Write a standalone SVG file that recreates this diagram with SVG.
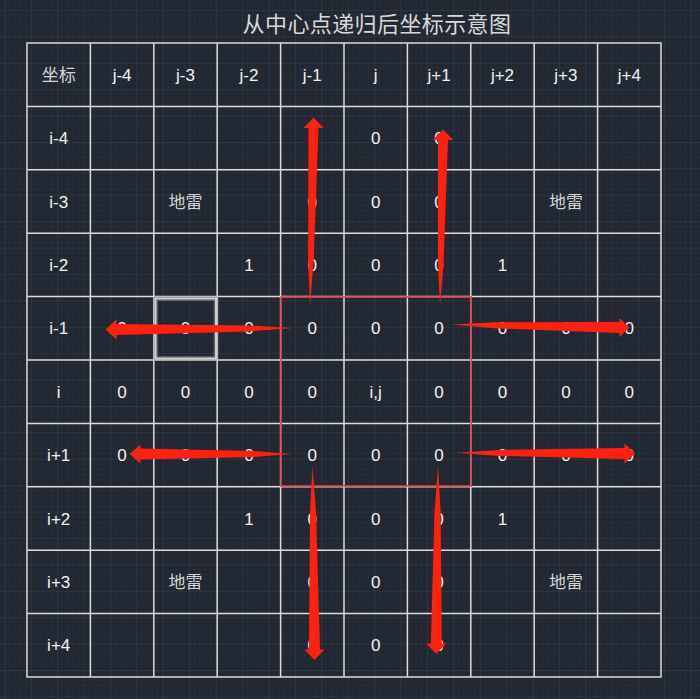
<svg xmlns="http://www.w3.org/2000/svg" width="700" height="699" viewBox="0 0 700 699">
<style>
.t{font-family:"Liberation Sans",Arial,sans-serif;font-size:17px;fill:#f2f2f2;text-anchor:middle}
.c{font-family:"Noto Sans CJK SC","Noto Sans",sans-serif;font-size:17px;fill:#d4d4d4;text-anchor:middle}
.title{font-family:"Noto Sans CJK SC","Noto Sans",sans-serif;font-size:22px;fill:#d8d8d8;text-anchor:middle;letter-spacing:0.4px}
.grid{stroke:#dcdcdc;stroke-width:1.5;fill:none}
.arrow{fill:#ff2010;stroke:none}
</style>
<defs>
<pattern id="bg" patternUnits="userSpaceOnUse" x="4.5" y="10" width="26.4" height="26.4">
<rect width="26.4" height="26.4" fill="#212731"/>
<path d="M5.28 0V26.4M10.56 0V26.4M15.84 0V26.4M21.12 0V26.4M0 5.28H26.4M0 10.56H26.4M0 15.84H26.4M0 21.12H26.4" stroke="#252c37" stroke-width="1"/>
<path d="M0.5 0V26.4M0 0.5H26.4" stroke="#2e3543" stroke-width="1"/>
</pattern>
</defs>
<rect width="700" height="699" fill="url(#bg)"/>
<text class="title" x="377" y="32">从中心点递归后坐标示意图</text>
<g id="table">
<rect class="grid" x="27" y="43" width="634" height="634"/>
<path class="grid" d="M90.4 43V677M153.8 43V677M217.2 43V677M280.6 43V677M344 43V677M407.4 43V677M470.8 43V677M534.2 43V677M597.6 43V677M27 106.4H661M27 169.8H661M27 233.2H661M27 296.6H661M27 360H661M27 423.4H661M27 486.8H661M27 550.2H661M27 613.6H661"/>
</g>
<g id="highlight">
<rect x="155.5" y="298.5" width="60.5" height="60" fill="none" stroke="#9a9a9a" stroke-opacity="0.45" stroke-width="5"/>
<rect x="155.5" y="298.5" width="60.5" height="60" fill="none" stroke="#cfcfcf" stroke-width="2"/>
</g>
<g id="center-box">
<rect x="281" y="297" width="190" height="189" fill="none" stroke="#de3b3b" stroke-width="1.6"/>
</g>
<g id="labels">
<text class="c" x="58.7" y="81">坐标</text>
<text class="t" x="122.1" y="80.7">j-4</text>
<text class="t" x="185.5" y="80.7">j-3</text>
<text class="t" x="248.9" y="80.7">j-2</text>
<text class="t" x="312.3" y="80.7">j-1</text>
<text class="t" x="375.7" y="80.7">j</text>
<text class="t" x="439.1" y="80.7">j+1</text>
<text class="t" x="502.5" y="80.7">j+2</text>
<text class="t" x="565.9" y="80.7">j+3</text>
<text class="t" x="629.3" y="80.7">j+4</text>
<text class="t" x="58.7" y="144.1">i-4</text>
<text class="t" x="58.7" y="207.5">i-3</text>
<text class="t" x="58.7" y="270.9">i-2</text>
<text class="t" x="58.7" y="334.3">i-1</text>
<text class="t" x="58.7" y="397.7">i</text>
<text class="t" x="58.7" y="461.1">i+1</text>
<text class="t" x="58.7" y="524.5">i+2</text>
<text class="t" x="58.7" y="587.9">i+3</text>
<text class="t" x="58.7" y="651.3">i+4</text>
</g>
<g id="cells">
<text class="t" x="375.7" y="144.1">0</text>
<text class="t" x="439.1" y="144.1">0</text>
<text class="c" x="185.5" y="208">地雷</text>
<text class="t" x="312.3" y="207.5">0</text>
<text class="t" x="375.7" y="207.5">0</text>
<text class="t" x="439.1" y="207.5">0</text>
<text class="c" x="565.9" y="208">地雷</text>
<text class="t" x="248.9" y="270.9">1</text>
<text class="t" x="312.3" y="270.9">0</text>
<text class="t" x="375.7" y="270.9">0</text>
<text class="t" x="439.1" y="270.9">0</text>
<text class="t" x="502.5" y="270.9">1</text>
<text class="t" x="122.1" y="334.3">0</text>
<text class="t" x="185.5" y="334.3">0</text>
<text class="t" x="248.9" y="334.3">0</text>
<text class="t" x="312.3" y="334.3">0</text>
<text class="t" x="375.7" y="334.3">0</text>
<text class="t" x="439.1" y="334.3">0</text>
<text class="t" x="502.5" y="334.3">0</text>
<text class="t" x="565.9" y="334.3">0</text>
<text class="t" x="629.3" y="334.3">0</text>
<text class="t" x="122.1" y="397.7">0</text>
<text class="t" x="185.5" y="397.7">0</text>
<text class="t" x="248.9" y="397.7">0</text>
<text class="t" x="312.3" y="397.7">0</text>
<text class="t" x="375.7" y="397.7">i,j</text>
<text class="t" x="439.1" y="397.7">0</text>
<text class="t" x="502.5" y="397.7">0</text>
<text class="t" x="565.9" y="397.7">0</text>
<text class="t" x="629.3" y="397.7">0</text>
<text class="t" x="122.1" y="461.1">0</text>
<text class="t" x="185.5" y="461.1">0</text>
<text class="t" x="248.9" y="461.1">0</text>
<text class="t" x="312.3" y="461.1">0</text>
<text class="t" x="375.7" y="461.1">0</text>
<text class="t" x="439.1" y="461.1">0</text>
<text class="t" x="502.5" y="461.1">0</text>
<text class="t" x="565.9" y="461.1">0</text>
<text class="t" x="629.3" y="461.1">0</text>
<text class="t" x="248.9" y="524.5">1</text>
<text class="t" x="312.3" y="524.5">0</text>
<text class="t" x="375.7" y="524.5">0</text>
<text class="t" x="439.1" y="524.5">0</text>
<text class="t" x="502.5" y="524.5">1</text>
<text class="c" x="185.5" y="588.4">地雷</text>
<text class="t" x="312.3" y="587.9">0</text>
<text class="t" x="375.7" y="587.9">0</text>
<text class="t" x="439.1" y="587.9">0</text>
<text class="c" x="565.9" y="588.4">地雷</text>
<text class="t" x="312.3" y="651.3">0</text>
<text class="t" x="375.7" y="651.3">0</text>
<text class="t" x="439.1" y="651.3">0</text>
</g>
<g id="connectors">
<polygon class="arrow" points="310,306 308.1,261.5 308.5,128 303.5,128 313.5,117.5 323.5,128 318.5,128 313.6,261.5"/>
<polygon class="arrow" points="440,306 438,264.5 438,140 432.8,140 443,129.5 453.2,140 448,140 443.5,264.5"/>
<polygon class="arrow" points="293,328 248.8,325.4 116.5,324 116.5,319.5 105.5,329.5 116.5,339.5 116.5,335 248.8,331.4"/>
<polygon class="arrow" points="292,454 254,451 140.5,448.5 140.5,444.5 129.5,454 140.5,463.5 140.5,459.5 254,457"/>
<polygon class="arrow" points="452,324.5 494,322.3 619.5,322 619.5,318 629.5,327.5 619.5,337 619.5,333 494,328.3"/>
<polygon class="arrow" points="457,452.7 499,449.9 624.5,448 624.5,443.5 635,453.5 624.5,463.5 624.5,459 499,455.9"/>
<polygon class="arrow" points="312.5,466 316,512 320,649.5 324.5,649.5 314.5,660 304.5,649.5 309,649.5 310,512"/>
<polygon class="arrow" points="438,466 440.6,510.5 441.8,643.5 446.3,643.5 436.3,654 426.3,643.5 430.8,643.5 434.6,510.5"/>
</g>
</svg>
